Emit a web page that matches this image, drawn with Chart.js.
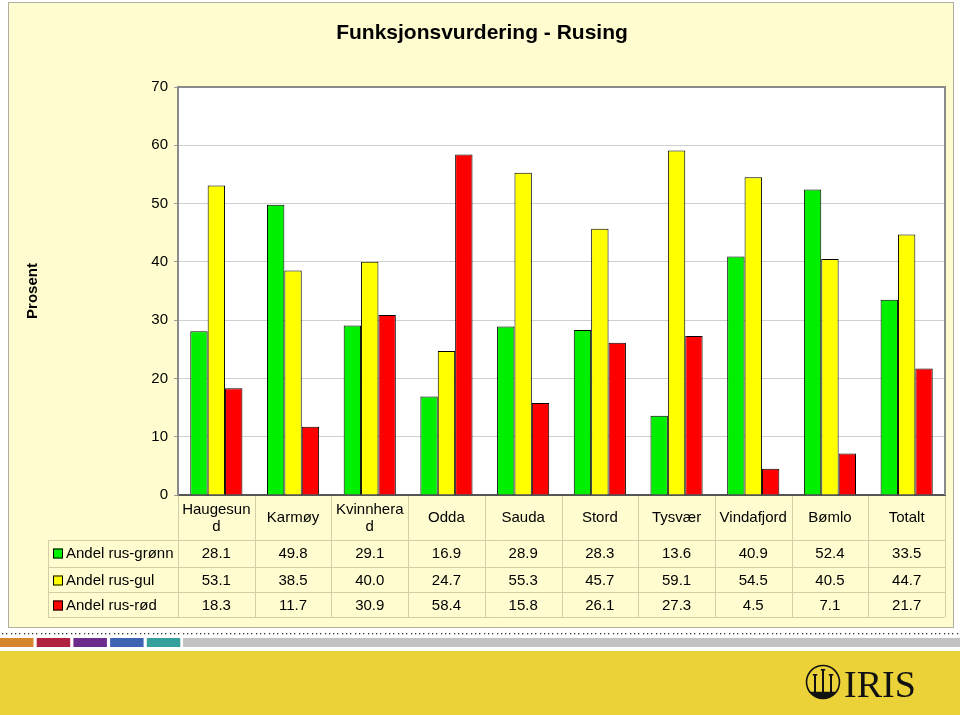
<!DOCTYPE html>
<html>
<head>
<meta charset="utf-8">
<script src="https://cdn.jsdelivr.net/npm/chart.js@4.4.1/dist/chart.umd.min.js"></script>
<style>
  html, body { margin: 0; padding: 0; background: #fff; }
  #wrap { width: 960px; height: 715px; }
</style>
</head>
<body>
<div id="wrap"><canvas id="myChart" width="960" height="715"></canvas></div>
<script>
// Chart data
var categories = ['Haugesund', 'Karmøy', 'Kvinnherad', 'Odda', 'Sauda', 'Stord', 'Tysvær', 'Vindafjord', 'Bømlo', 'Totalt'];
var tickLabels = [['Haugesun', 'd'], 'Karmøy', ['Kvinnhera', 'd'], 'Odda', 'Sauda', 'Stord', 'Tysvær', 'Vindafjord', 'Bømlo', 'Totalt'];
var seriesNames = ['Andel rus-grønn', 'Andel rus-gul', 'Andel rus-rød'];
var gronn = [28.1, 49.8, 29.1, 16.9, 28.9, 28.3, 13.6, 40.9, 52.4, 33.5];
var gul = [53.1, 38.5, 40.0, 24.7, 55.3, 45.7, 59.1, 54.5, 40.5, 44.7];
var rod = [18.3, 11.7, 30.9, 58.4, 15.8, 26.1, 27.3, 4.5, 7.1, 21.7];
var yTicks = [0, 10, 20, 30, 40, 50, 60, 70];

var FONT = "'Liberation Sans', Arial, sans-serif";
var colors = ['#00F000', '#FFFF00', '#FF0000'];

// background, table, title and footer drawn around the chart
var pagePlugin = {
    id: 'pagePlugin',
    beforeDraw: function(chart) {
        var c = chart.ctx, a = chart.chartArea;
        c.save();
        c.fillStyle = '#fff';
        c.fillRect(0, 0, 960, 715);
        // yellow panel
        c.fillStyle = '#FFFDD0';
        c.fillRect(8, 2, 945, 625);
        c.strokeStyle = '#B0AFA0';
        c.lineWidth = 1;
        c.strokeRect(8.5, 2.5, 945, 625);
        // plot area
        c.fillStyle = '#fff';
        c.fillRect(a.left, a.top, a.right - a.left, a.bottom - a.top);
        // dotted line
        c.fillStyle = '#333';
        for (var x = 2; x < 960; x += 4.3) c.fillRect(Math.round(x), 633, 1.3, 1.3);
        // colour strips
        var strips = ['#D6862C', '#AF2240', '#6B2C8C', '#3F63B3', '#36A19B'];
        strips.forEach(function(col, i) {
            c.fillStyle = col;
            c.fillRect(i * 36.7, 638, 33.5, 9);
        });
        c.fillStyle = '#C2C2C2';
        c.fillRect(183, 638, 777, 9);
        // footer band
        c.fillStyle = '#EAD238';
        c.fillRect(0, 651, 960, 64);
        // logo
        c.strokeStyle = '#111';
        c.lineWidth = 1.6;
        c.beginPath();
        c.arc(823, 682, 16.5, 0, Math.PI * 2);
        c.stroke();
        c.fillStyle = '#111';
        c.beginPath();
        c.arc(823, 682, 16.5, 0.2 * Math.PI, 0.8 * Math.PI);
        c.fill();
        [815, 823, 831].forEach(function(px, i) {
            var top = 671 + (i === 1 ? -2 : 3);
            c.fillRect(px - 1, top, 2, 694 - top);
            c.fillRect(px - 2.2, top, 4.4, 1.6);
        });
        c.font = "38px 'Liberation Serif', 'DejaVu Serif', serif";
        c.textAlign = 'left';
        c.textBaseline = 'alphabetic';
        c.fillText('IRIS', 844, 697);
        c.restore();
    },
    afterDraw: function(chart) {
        var c = chart.ctx, a = chart.chartArea, xs = chart.scales.x;
        var n = categories.length;
        var colW = (a.right - a.left) / n;
        var rowTop = [540, 567, 592];
        var rowH = 25;
        var tableBottom = 617;
        c.save();
        // plot frame top/right
        c.strokeStyle = '#8A8A8A';
        c.lineWidth = 2;
        c.beginPath();
        c.moveTo(a.left, a.top);
        c.lineTo(a.right, a.top);
        c.lineTo(a.right, a.bottom);
        c.stroke();
        // table grid
        c.strokeStyle = '#D3CEA6';
        c.lineWidth = 1;
        c.beginPath();
        for (var i = 0; i <= n; i++) {
            var gx = Math.round(a.left + i * colW) + 0.5;
            c.moveTo(gx, a.bottom + 1);
            c.lineTo(gx, tableBottom);
        }
        [540, 567, 592, 617].forEach(function(y) {
            c.moveTo(48, y + 0.5);
            c.lineTo(a.right, y + 0.5);
        });
        c.moveTo(48.5, 540);
        c.lineTo(48.5, tableBottom);
        c.stroke();
        // category labels
        c.fillStyle = '#000';
        c.font = '15px ' + FONT;
        c.textAlign = 'center';
        c.textBaseline = 'middle';
        tickLabels.forEach(function(lab, i) {
            var cx = xs.getPixelForValue(i);
            var lines = Array.isArray(lab) ? lab : [lab];
            var mid = 518;
            lines.forEach(function(t, k) {
                c.fillText(t, cx, mid + (k - (lines.length - 1) / 2) * 17);
            });
        });
        // data rows
        var rows = [gronn, gul, rod];
        rows.forEach(function(vals, r) {
            var cy = rowTop[r] + rowH / 2 + 1;
            c.fillStyle = colors[r];
            c.fillRect(53, cy - 5, 10, 10);
            c.strokeStyle = '#000';
            c.strokeRect(53.5, cy - 4.5, 9, 9);
            c.fillStyle = '#000';
            c.textAlign = 'left';
            c.fillText(seriesNames[r], 66, cy);
            c.textAlign = 'center';
            vals.forEach(function(v, i) {
                c.fillText(v.toFixed(1), xs.getPixelForValue(i), cy);
            });
        });
        // title
        c.font = 'bold 21px ' + FONT;
        c.fillText('Funksjonsvurdering - Rusing', 482, 33);
        // y title
        c.translate(33, (a.top + a.bottom) / 2);
        c.rotate(-Math.PI / 2);
        c.font = 'bold 15px ' + FONT;
        c.fillText('Prosent', 0, 0);
        c.restore();
    }
};

var data = {
    labels: tickLabels,
    datasets: [
        { label: seriesNames[0], data: gronn, backgroundColor: colors[0], borderColor: '#000', borderWidth: 1 },
        { label: seriesNames[1], data: gul, backgroundColor: colors[1], borderColor: '#000', borderWidth: 1 },
        { label: seriesNames[2], data: rod, backgroundColor: colors[2], borderColor: '#000', borderWidth: 1 }
    ]
};

var options = {
    responsive: false,
    animation: false,
    layout: { padding: { left: 0, right: 15, top: 87, bottom: 220 } },
    plugins: { legend: { display: false }, title: { display: false }, tooltip: { enabled: false } },
    datasets: { bar: { categoryPercentage: 0.68, barPercentage: 1.0 } },
    scales: {
        x: {
            ticks: { display: false },
            grid: { display: false },
            border: { color: '#555', width: 2 },
            afterFit: function(s) { s.height = 0; }
        },
        y: {
            min: 0,
            max: 70,
            afterBuildTicks: function(s) { s.ticks = yTicks.map(function(v) { return { value: v }; }); },
            ticks: { color: '#000', font: { family: FONT, size: 15 }, padding: 6 },
            grid: { color: '#CFCFCF', tickLength: 4, tickColor: '#999' },
            border: { color: '#8A8A8A', width: 2 },
            afterFit: function(s) { s.width = 178; }
        }
    }
};

var ctx = document.getElementById('myChart').getContext('2d');
var myChart = new Chart(ctx, { type: 'bar', data: data, options: options, plugins: [pagePlugin] });
</script>
</body>
</html>
